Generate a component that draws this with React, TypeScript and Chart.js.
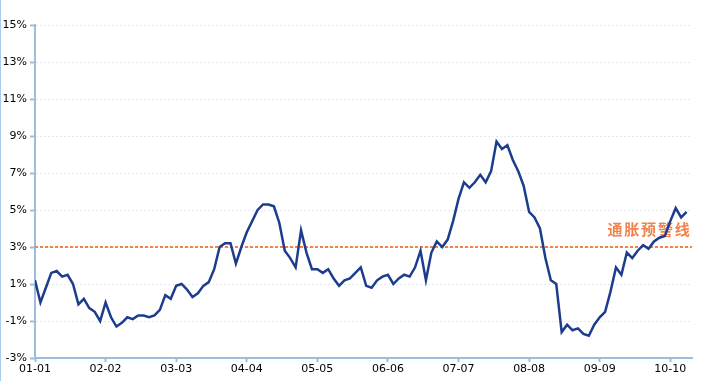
import React, { useEffect, useRef } from "react";
import { Chart, registerables } from "chart.js";

Chart.register(...registerables);

const START_YEAR = 2001;
const START_MONTH = 1;
const CPI: number[] = [
  // 2001
  1.2, 0.0, 0.8, 1.6, 1.7, 1.4, 1.5, 1.0, -0.1, 0.2, -0.3, -0.5,
  // 2002
  -1.0, 0.0, -0.8, -1.3, -1.1, -0.8, -0.9, -0.7, -0.7, -0.8, -0.7, -0.4,
  // 2003
  0.4, 0.2, 0.9, 1.0, 0.7, 0.3, 0.5, 0.9, 1.1, 1.8, 3.0, 3.2,
  // 2004
  3.2, 2.1, 3.0, 3.8, 4.4, 5.0, 5.3, 5.3, 5.2, 4.3, 2.8, 2.4,
  // 2005
  1.9, 3.9, 2.7, 1.8, 1.8, 1.6, 1.8, 1.3, 0.9, 1.2, 1.3, 1.6,
  // 2006
  1.9, 0.9, 0.8, 1.2, 1.4, 1.5, 1.0, 1.3, 1.5, 1.4, 1.9, 2.8,
  // 2007
  1.2, 2.7, 3.3, 3.0, 3.4, 4.4, 5.6, 6.5, 6.2, 6.5, 6.9, 6.5,
  // 2008
  7.1, 8.7, 8.3, 8.5, 7.7, 7.1, 6.3, 4.9, 4.6, 4.0, 2.4, 1.2,
  // 2009
  1.0, -1.6, -1.2, -1.5, -1.4, -1.7, -1.8, -1.2, -0.8, -0.5, 0.6, 1.9,
  // 2010
  1.5, 2.7, 2.4, 2.8, 3.1, 2.9, 3.3, 3.5, 3.6, 4.4, 5.1, 4.6,
  // 2011
  4.9,
];
const MONTHS: string[] = CPI.map((_, i) => {
  const m = START_MONTH - 1 + i;
  const yy = (START_YEAR + Math.floor(m / 12)) % 100;
  const mm = (m % 12) + 1;
  return String(yy).padStart(2, "0") + "-" + String(mm).padStart(2, "0");
});
const X_TICK_STEP = 13;
const X_MAX = 121;
const Y_MIN = -3;
const Y_MAX = 15;
const Y_STEP = 2;
const WARN_LEVEL = 3;
const WARN_LABEL = "通胀预警线";

const AXIS_BLUE = "#9dbddd";
const GRID = "#e3e9f0";
const LINE = "#1d3d8c";
const ORANGE = "#f2824c";

export default function App() {
  const ref = useRef<HTMLCanvasElement | null>(null);
  useEffect(() => {
    if (!ref.current) return;
    const warnPlugin = {
      id: "warn",
      beforeDraw(chart: any) {
        const ctx = chart.ctx;
        ctx.save();
        ctx.fillStyle = "#a8cdec";
        ctx.fillRect(0, 0, 1, chart.height);
        ctx.restore();
      },
      beforeDatasetsDraw(chart: any) {
        const ctx = chart.ctx;
        const { left, right } = chart.chartArea;
        const y = Math.round(chart.scales.y.getPixelForValue(WARN_LEVEL));
        ctx.save();
        ctx.strokeStyle = ORANGE;
        ctx.lineWidth = 2;
        ctx.setLineDash([3, 2]);
        ctx.beginPath();
        ctx.moveTo(left, y);
        ctx.lineTo(right, y);
        ctx.stroke();
        ctx.setLineDash([]);
        ctx.fillStyle = ORANGE;
        ctx.font = "bold 15px 'Noto Sans CJK SC'";
        ctx.textBaseline = "middle";
        ctx.textAlign = "left";
        const step = 16.8;
        const x0 = right - 2 - step * WARN_LABEL.length + 1.5;
        Array.from(WARN_LABEL).forEach((ch, i) => {
          ctx.fillText(ch, x0 + i * step, y - 18);
        });
        ctx.restore();
      },
    };
    const chart = new Chart(ref.current, {
      type: "line",
      data: {
        datasets: [
          {
            data: CPI.map((v, i) => ({ x: i, y: v })),
            borderColor: LINE,
            borderWidth: 2.5,
            pointRadius: 0,
            tension: 0,
            fill: false,
          },
        ],
      },
      options: {
        animation: false,
        responsive: false,
        devicePixelRatio: 1,
        layout: { padding: { top: 25, right: 20, left: 0, bottom: 0 } },
        plugins: { legend: { display: false }, tooltip: { enabled: false } },
        scales: {
          x: {
            type: "linear",
            min: 0,
            max: X_MAX,
            afterBuildTicks(scale: any) {
              scale.ticks = MONTHS.map((_, i) => i)
                .filter((i) => i % X_TICK_STEP === 0)
                .map((v) => ({ value: v }));
            },
            afterFit(scale: any) {
              scale.height = 23;
            },
            ticks: {
              autoSkip: false,
              maxRotation: 0,
              padding: 1,
              color: "#000",
              font: { family: "DejaVu Sans", size: 11 },
              callback: (v: any) => MONTHS[v as number],
            },
            grid: {
              drawOnChartArea: false,
              drawTicks: true,
              tickLength: 4,
              tickColor: AXIS_BLUE,
              tickWidth: 2,
            },
            border: { color: AXIS_BLUE, width: 2 },
          },
          y: {
            min: Y_MIN,
            max: Y_MAX,
            afterFit(scale: any) {
              scale.width = 35;
            },
            ticks: {
              stepSize: Y_STEP,
              padding: 3,
              color: "#000",
              font: { family: "DejaVu Sans", size: 11 },
              callback: (v: any) => v + "%",
            },
            grid: {
              color: GRID,
              lineWidth: 1,
              tickLength: 5,
              tickColor: AXIS_BLUE,
              tickWidth: 2,
            },
            border: { color: AXIS_BLUE, width: 2, dash: [2, 2] },
          },
        },
      },
      plugins: [warnPlugin],
    });
    return () => chart.destroy();
  }, []);
  return (
    <div style={{ position: "fixed", left: 0, top: 0, width: 712, height: 381, background: "#fff" }}>
      <canvas ref={ref} width={712} height={381} style={{ display: "block" }} />
    </div>
  );
}
